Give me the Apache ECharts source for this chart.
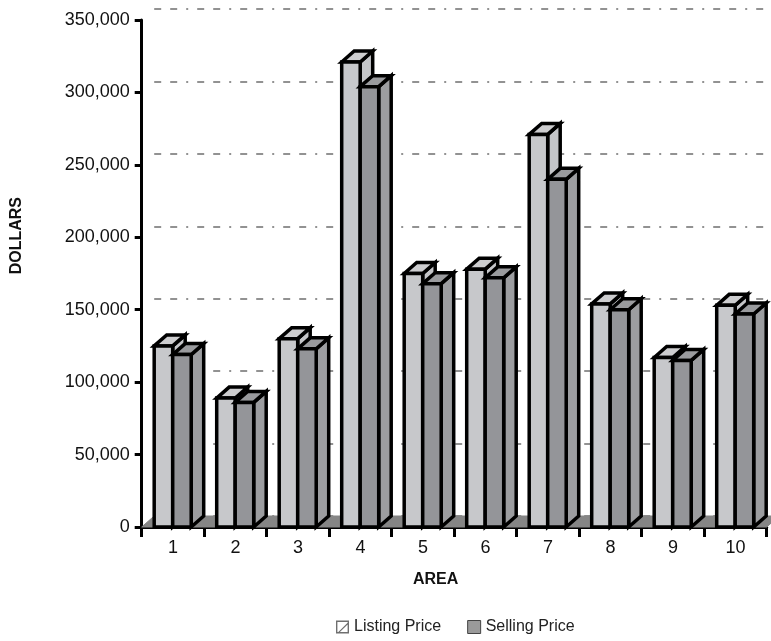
<!DOCTYPE html>
<html>
<head>
<meta charset="utf-8">
<script src="https://cdn.jsdelivr.net/npm/echarts@6/dist/echarts.min.js"></script>
<style>
  html, body { margin: 0; padding: 0; background: #fff; }
  #chart { width: 771px; height: 641px; }
</style>
</head>
<body>
<div id="chart"></div>
<script>
// Average listing and selling prices per area
const areas = ['1', '2', '3', '4', '5', '6', '7', '8', '9', '10'];
const listingPrice = [125000, 89000, 130000, 321000, 175000, 178000, 271000, 154000, 117000, 153000];
const sellingPrice = [119000, 86000, 123000, 304000, 168000, 172000, 240000, 150000, 115000, 147000];
const yMin = 0;
const yMax = 350000;
const yStep = 50000;

const FONT = '"Liberation Sans", Arial, sans-serif';
const DEPTH_Y = 11;          // vertical offset of the back faces (px)
const DEPTH_FRAC = 0.2;      // horizontal depth as a share of the category band
const GAP_FRAC = 0.2;        // left gap in the band before the first bar
const BAR_FRAC = 0.296;      // width of one bar front face
const EDGE_W = 3.5;          // outline width of the prisms

const chart = echarts.init(document.getElementById('chart'), null, { renderer: 'canvas' });

// Draws one prism: side face, top face, then front face
function prism(k, faceColor, topColor, sideColor) {
  return function (params, api) {
    const i = api.value(0);
    const v = api.value(1);
    const base = api.coord([i, 0]);
    const tip = api.coord([i, v]);
    const bw = api.size([1, 0])[0];
    const left = base[0] - bw / 2 + bw * GAP_FRAC + k * bw * BAR_FRAC;
    const right = left + bw * BAR_FRAC;
    const y0 = base[1];
    const y1 = tip[1];
    const dx = bw * DEPTH_FRAC;
    const dy = DEPTH_Y;
    const edge = { stroke: '#000', lineWidth: EDGE_W, lineJoin: 'miter' };
    return {
      type: 'group',
      children: [
        {
          type: 'polygon',
          shape: { points: [[right, y0], [right + dx, y0 - dy], [right + dx, y1 - dy], [right, y1]] },
          style: Object.assign({ fill: sideColor }, edge)
        },
        {
          type: 'polygon',
          shape: { points: [[left, y1], [left + dx, y1 - dy], [right + dx, y1 - dy], [right, y1]] },
          style: Object.assign({ fill: topColor }, edge)
        },
        {
          type: 'rect',
          shape: { x: left, y: y1, width: right - left, height: y0 - y1 },
          style: Object.assign({ fill: faceColor }, edge)
        }
      ]
    };
  };
}

// The grey floor plane under the bars
function floor(params, api) {
  const cs = params.coordSys;
  const bw = api.size([1, 0])[0];
  const dx = bw * DEPTH_FRAC;
  const yb = cs.y + cs.height;
  return {
    type: 'polygon',
    silent: true,
    shape: { points: [[cs.x, yb], [cs.x + cs.width, yb], [cs.x + cs.width + dx, yb - DEPTH_Y], [cs.x + dx, yb - DEPTH_Y]] },
    style: { fill: '#858585', stroke: '#858585', lineWidth: 1 }
  };
}

const listingIcon = 'path://M0,0 L14,0 L14,14 L0,14 Z M1.5,1.5 L1.5,12.5 L12.5,12.5 L12.5,1.5 Z ' +
  'M2.5,12.5 L12.5,2.5 L12.5,4.2 L4.2,12.5 Z';

const option = {
  animation: false,
  backgroundColor: '#fff',
  textStyle: { fontFamily: FONT },
  grid: [
    { left: 141.7, right: 4.3, top: 20, bottom: 114, containLabel: false },
    { left: 154.2, right: -10, top: 9, bottom: 125, containLabel: false }
  ],
  xAxis: [
    {
      type: 'category',
      gridIndex: 0,
      data: areas,
      boundaryGap: true,
      axisLine: { lineStyle: { color: '#000', width: 3 } },
      axisTick: { show: true, length: 10, lineStyle: { color: '#000', width: 3 } },
      axisLabel: { color: '#111', fontSize: 18, margin: 12, fontFamily: FONT },
      splitLine: { show: false }
    },
    { type: 'value', gridIndex: 1, show: false, min: 0, max: 1 }
  ],
  yAxis: [
    {
      type: 'value',
      gridIndex: 0,
      min: yMin,
      max: yMax,
      interval: yStep,
      axisLine: { show: true, lineStyle: { color: '#000', width: 3 } },
      axisTick: { show: true, length: 7, lineStyle: { color: '#000', width: 3 } },
      axisLabel: {
        color: '#111', fontSize: 18, margin: 12, fontFamily: FONT,
        formatter: v => v.toLocaleString('en-US')
      },
      splitLine: { show: false }
    },
    {
      type: 'value',
      gridIndex: 1,
      min: yMin,
      max: yMax,
      interval: yStep,
      axisLine: { show: false },
      axisTick: { show: false },
      axisLabel: { show: false },
      splitLine: { show: true, lineStyle: { color: '#6f6f6f', width: 1.5, type: [7, 9, 7, 9, 2, 9] } }
    }
  ],
  legend: {
    left: 331,
    top: 614,
    itemWidth: 13,
    itemHeight: 13,
    itemGap: 26,
    selectedMode: false,
    textStyle: { fontSize: 16, color: '#222', fontFamily: FONT },
    data: [
      { name: 'Listing Price', icon: listingIcon, itemStyle: { color: '#6f6f6f', borderWidth: 0 } },
      { name: 'Selling Price', icon: 'rect', itemStyle: { color: '#9a9a9a', borderColor: '#444', borderWidth: 1 } }
    ]
  },
  graphic: [
    {
      type: 'text',
      left: 9, top: 197,
      rotation: Math.PI / 2,
      style: { text: 'DOLLARS', font: 'bold 16px ' + FONT, fill: '#111' }
    },
    {
      type: 'text',
      left: 413, top: 572,
      style: { text: 'AREA', font: 'bold 16px ' + FONT, fill: '#111' }
    }
  ],
  series: [
    {
      type: 'custom',
      name: 'floor',
      xAxisIndex: 0, yAxisIndex: 0,
      data: [[0, 0]],
      renderItem: floor,
      silent: true,
      z: 1
    },
    {
      type: 'custom',
      name: 'Listing Price',
      xAxisIndex: 0, yAxisIndex: 0,
      data: listingPrice.map((v, i) => [i, v]),
      encode: { x: 0, y: 1 },
      renderItem: prism(0, '#c7c8cb', '#cdcdcf', '#c4c5c8'),
      itemStyle: { color: '#6f6f6f' },
      z: 2
    },
    {
      type: 'custom',
      name: 'Selling Price',
      xAxisIndex: 0, yAxisIndex: 0,
      data: sellingPrice.map((v, i) => [i, v]),
      encode: { x: 0, y: 1 },
      renderItem: prism(1, '#949599', '#9a9b9e', '#9c9da0'),
      itemStyle: { color: '#9a9a9a' },
      z: 3
    }
  ]
};

chart.setOption(option);
</script>
</body>
</html>
